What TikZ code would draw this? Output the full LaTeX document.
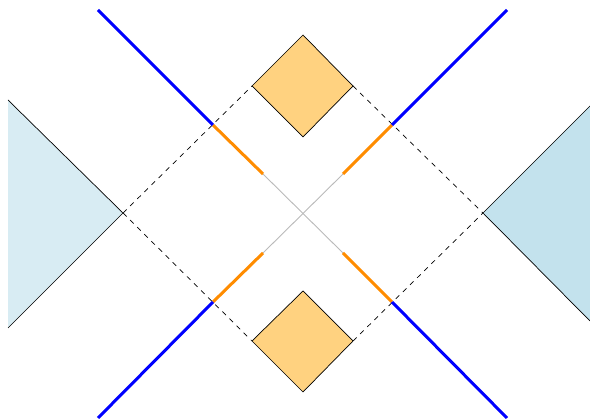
\documentclass[tikz,border=0pt]{standalone}
\definecolor{lightfill}{HTML}{D8ECF3}
\definecolor{rightfill}{HTML}{C3E2ED}
\definecolor{boxfill}{HTML}{FFD280}
\definecolor{segorange}{HTML}{FF8C00}
\begin{document}
\begin{tikzpicture}[x=1pt,y=-1pt,
  dashline/.style={black, dashed, dash pattern=on 5pt off 5pt, line width=0.7pt},
  bluelin/.style={blue, line width=3pt},
  orangelin/.style={segorange, line width=3pt},
  graylin/.style={black!27, line width=0.9pt},
  boxsq/.style={fill=boxfill, draw=black, line width=0.7pt, line join=round}]
\useasboundingbox (0,0) rectangle (590,419);
% key points
\coordinate (C) at (303,213);
\coordinate (L) at (123,213);
\coordinate (R) at (483,213);
\coordinate (TL) at (252,86);
\coordinate (TR) at (353,86);
\coordinate (BL) at (252,341);
\coordinate (BR) at (353,341);
% triangles
\fill[lightfill] (8,100) -- (L) -- (8,328) -- cycle;
\draw[black, line width=0.7pt] (8,100) -- (L) -- (8,328);
\fill[rightfill] (590,106) -- (R) -- (590,321) -- cycle;
\draw[black, line width=0.7pt] (590,106) -- (R) -- (590,321);
% dashed diamond parts
\draw[dashline] (L) -- (TL);
\draw[dashline] (TR) -- (R);
\draw[dashline] (L) -- (BL);
\draw[dashline] (BR) -- (R);
% gray diagonals
\draw[graylin] (263,174) -- (343,253);
\draw[graylin] (343,174) -- (263,253);
% orange segments
\draw[orangelin] (213,125) -- (263,174);
\draw[orangelin] (343,174) -- (392,125);
\draw[orangelin] (263,253) -- (213,302);
\draw[orangelin] (343,253) -- (392,302);
% blue lines
\draw[bluelin] (98,10) -- (213,125);
\draw[bluelin] (392,125) -- (507,10);
\draw[bluelin] (213,302) -- (98,418);
\draw[bluelin] (392,302) -- (507,418);
% orange boxes
\draw[boxsq] (303,35) -- (TR) -- (303,137) -- (TL) -- cycle;
\draw[boxsq] (303,291) -- (BR) -- (303,392) -- (BL) -- cycle;
\end{tikzpicture}
\end{document}
